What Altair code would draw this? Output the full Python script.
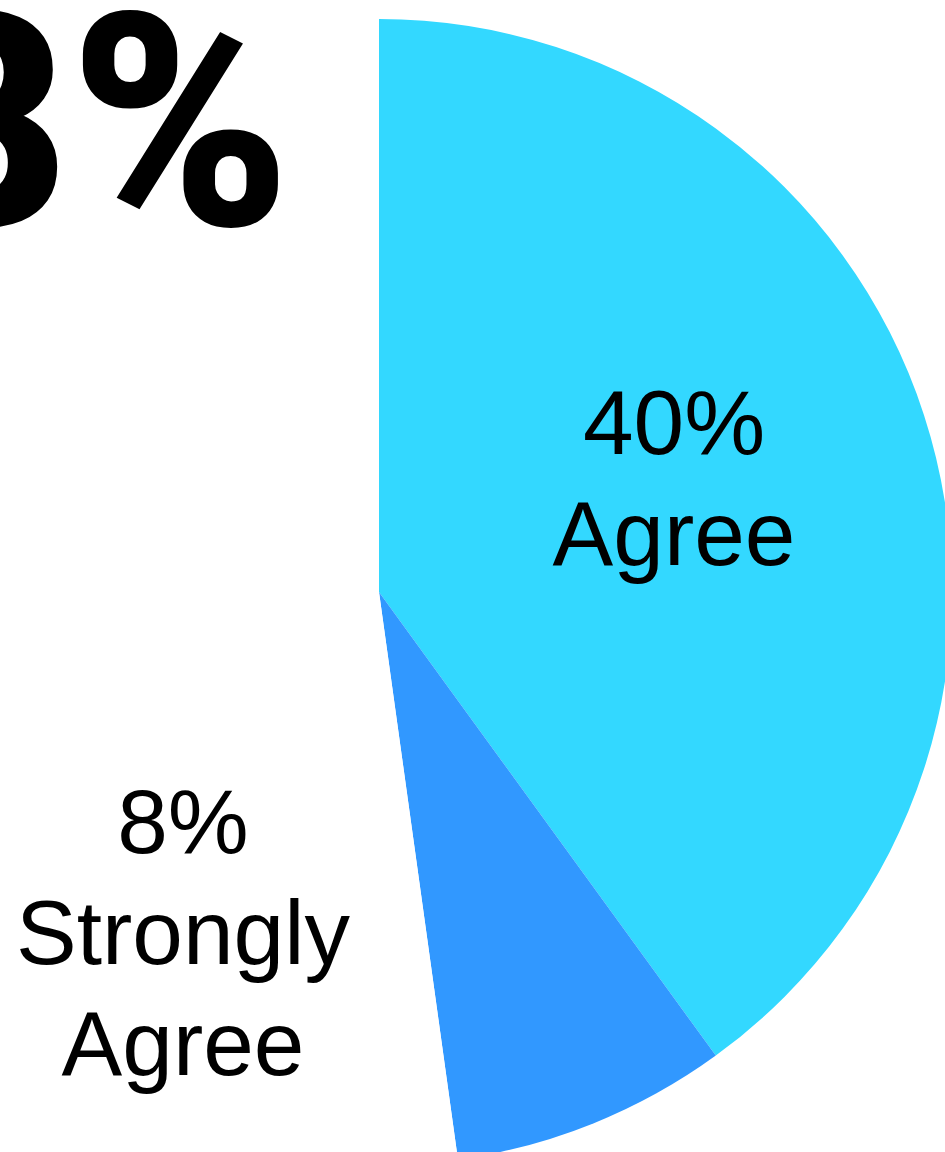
import altair as alt
import pandas as pd

# ---- data ----
categories = ["Agree", "Strongly Agree", "Other"]
values = [40, 7.8, 52.2]
shown = ["40%", "8%"]
colors = ["#33D8FF", "#3198FF", "#FFFFFF"]
label_names = ["Agree", "Strongly\nAgree"]
headline = "48%"

df = pd.DataFrame({"category": categories, "value": values, "order": list(range(len(categories)))})

W, H = 945, 1152
cx, cy, r = 379, 592, 573

pie = alt.Chart(df).mark_arc().encode(
    theta=alt.Theta("value:Q", stack=True),
    color=alt.Color("category:N", scale=alt.Scale(domain=categories, range=colors), legend=None),
    order=alt.Order("order:Q"),
    x=alt.value(cx),
    y=alt.value(cy),
    radius=alt.value(r),
)

def label_layer(text, x, y):
    d = pd.DataFrame({"t": [text]})
    return alt.Chart(d).mark_text(
        align="center", baseline="alphabetic", fontSize=91, lineHeight=111,
        lineBreak="\n", font="Liberation Sans", color="black"
    ).encode(text="t:N", x=alt.value(x), y=alt.value(y))

agree_label = label_layer(f"{shown[0]}\n{label_names[0]}", 674, 454)
strong_label = label_layer(f"{shown[1]}\n{label_names[1]}", 183, 853)

big = alt.Chart(pd.DataFrame({"t": [headline]})).mark_text(
    align="right", baseline="alphabetic", font="Roboto",
    fontWeight=900, fontSize=298, color="black"
).encode(text="t:N", x=alt.value(291), y=alt.value(225))

chart = alt.layer(pie, agree_label, strong_label, big).properties(
    width=W, height=H, autosize=alt.AutoSizeParams(type="none"), padding=0,
    background="white"
).configure_view(strokeWidth=0)

chart.save("out.html", embed_options={"renderer": "svg", "actions": False})
